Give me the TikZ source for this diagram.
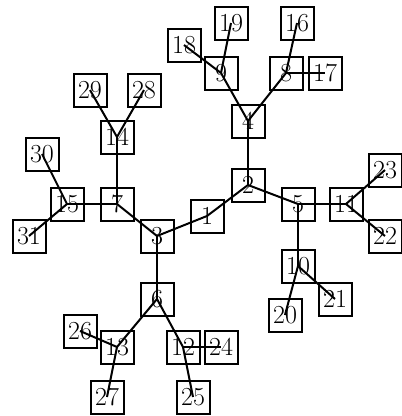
\documentclass[tikz,border=0pt]{standalone}
\begin{document}
\begin{tikzpicture}[x=1pt,y=-1pt,
  box/.style={draw,line width=2pt,minimum size=33pt,inner sep=0pt,font=\fontsize{26}{26}\selectfont},
  edge/.style={line width=2pt}]
\useasboundingbox (0,0) rectangle (402,416);
\node[box] (n1) at (207,216) {1};
\node[box] (n2) at (248,185) {2};
\node[box] (n3) at (157,236) {3};
\node[box] (n4) at (248,121) {4};
\node[box] (n5) at (298,204) {5};
\node[box] (n6) at (157,299) {6};
\node[box] (n7) at (117,204) {7};
\node[box] (n8) at (286,73) {8};
\node[box] (n9) at (221,73) {9};
\node[box] (n10) at (298,266) {10};
\node[box] (n11) at (346,204) {11};
\node[box] (n12) at (183,347) {12};
\node[box] (n13) at (117,347) {13};
\node[box] (n14) at (117,137) {14};
\node[box] (n15) at (67,204) {15};
\node[box] (n16) at (297,23) {16};
\node[box] (n17) at (325,73) {17};
\node[box] (n18) at (184,45) {18};
\node[box] (n19) at (231,23) {19};
\node[box] (n20) at (285,315) {20};
\node[box] (n21) at (335,299) {21};
\node[box] (n22) at (385,236) {22};
\node[box] (n23) at (385,170) {23};
\node[box] (n24) at (221,347) {24};
\node[box] (n25) at (193,397) {25};
\node[box] (n26) at (80,331) {26};
\node[box] (n27) at (107,397) {27};
\node[box] (n28) at (144,90) {28};
\node[box] (n29) at (90,90) {29};
\node[box] (n30) at (42,154) {30};
\node[box] (n31) at (29,236) {31};
\foreach \a/\b in {2/4,4/9,4/8,9/18,9/19,8/16,8/17,2/1,1/3,2/5,5/11,11/23,11/22,5/10,10/20,10/21,3/7,7/14,14/29,14/28,7/15,15/30,15/31,3/6,6/13,6/12,13/26,13/27,12/24,12/25}
  \draw[edge] (n\a.center) -- (n\b.center);
\end{tikzpicture}
\end{document}
